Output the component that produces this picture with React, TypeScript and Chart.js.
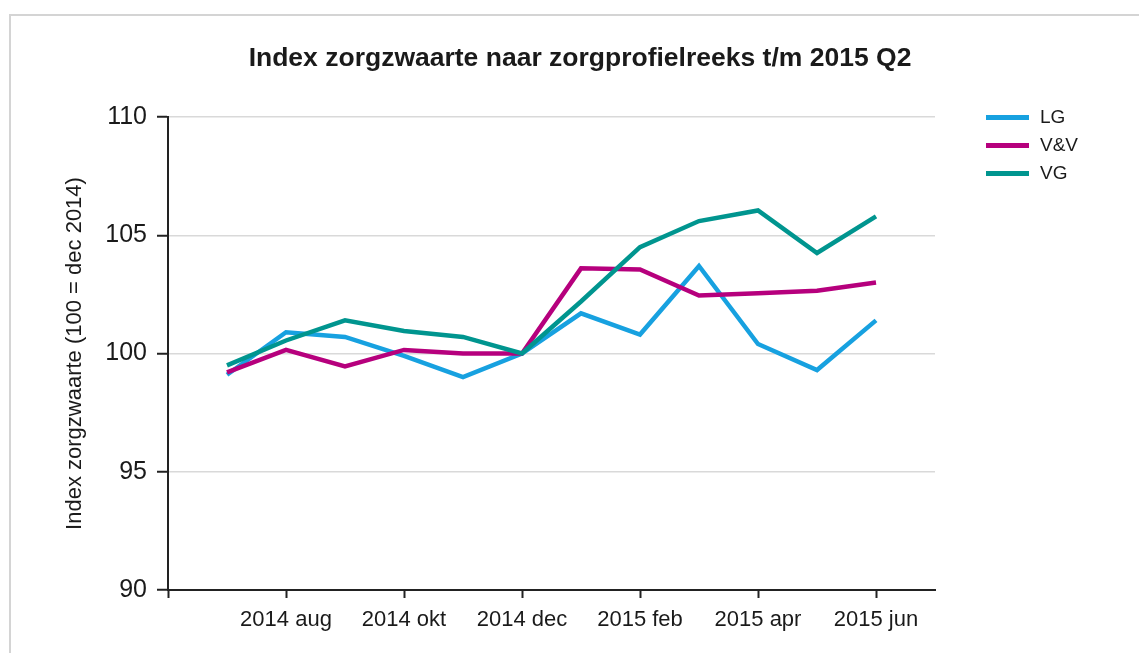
import React, { useEffect, useRef } from "react";
import { Chart, registerables } from "chart.js";

Chart.register(...registerables);

const TITLE = "Index zorgzwaarte naar zorgprofielreeks t/m 2015 Q2";
const Y_TITLE = "Index zorgzwaarte (100 = dec 2014)";

const MONTHS = [
  "2014 jul", "2014 aug", "2014 sep", "2014 okt", "2014 nov", "2014 dec",
  "2015 jan", "2015 feb", "2015 mrt", "2015 apr", "2015 mei", "2015 jun",
];
const X_TICK_INDEXES = [-1, 1, 3, 5, 7, 9, 11];
const Y_TICKS = [90, 95, 100, 105, 110];

const SERIES_NAMES = ["LG", "V&V", "VG"];
const SERIES_COLORS = ["#17a1e0", "#b6007d", "#00958f"];

const LG = [99.1, 100.9, 100.7, 99.9, 99.0, 100.0, 101.7, 100.8, 103.7, 100.4, 99.3, 101.4];
const VV = [99.2, 100.15, 99.45, 100.15, 100.0, 100.0, 103.6, 103.55, 102.45, 102.55, 102.65, 103.0];
const VG = [99.5, 100.55, 101.4, 100.95, 100.7, 100.0, 102.2, 104.5, 105.6, 106.05, 104.25, 105.8];

const SERIES_VALUES = [LG, VV, VG];

const FONT = "'Liberation Sans', Arial, sans-serif";
const TEXT = "#1a1a1a";

export default function App() {
  const ref = useRef<HTMLCanvasElement | null>(null);

  useEffect(() => {
    if (!ref.current) return;
    const datasets = SERIES_NAMES.map((name, i) => ({
      label: name,
      data: SERIES_VALUES[i].map((v, k) => ({ x: k, y: v })),
      borderColor: SERIES_COLORS[i],
      backgroundColor: SERIES_COLORS[i],
      borderWidth: 4.5,
      pointRadius: 0,
      tension: 0,
      fill: false,
      order: SERIES_NAMES.length - 1 - i,
    }));

    const chart = new Chart(ref.current, {
      type: "line",
      data: { datasets },
      options: {
        animation: false,
        responsive: false,
        layout: { padding: { left: 21, right: 0, top: 0, bottom: 0 } },
        plugins: {
          legend: { display: false },
          tooltip: { enabled: false },
          title: {
            display: true,
            text: TITLE,
            color: TEXT,
            font: { family: FONT, size: 26.5, weight: "bold" },
            padding: { top: 43, bottom: 42.2 },
          },
        },
        scales: {
          x: {
            type: "linear",
            min: -1,
            max: 12,
            afterBuildTicks: (s: any) => {
              s.ticks = X_TICK_INDEXES.map((v) => ({ value: v }));
            },
            afterFit: (s: any) => {
              s.height = 63;
            },
            ticks: {
              autoSkip: false,
              maxRotation: 0,
              padding: 9,
              color: TEXT,
              font: { family: FONT, size: 22 },
              callback: (v: any) => (v >= 0 && v < MONTHS.length ? MONTHS[v] : ""),
            },
            grid: {
              display: true,
              drawOnChartArea: false,
              drawTicks: true,
              tickLength: 8,
              tickColor: "#222",
              tickWidth: 2,
            },
            border: { display: true, color: "#222", width: 2 },
          },
          y: {
            type: "linear",
            min: 90,
            max: 110,
            afterBuildTicks: (s: any) => {
              s.ticks = Y_TICKS.map((v) => ({ value: v }));
            },
            afterFit: (s: any) => {
              s.width = 147;
            },
            ticks: {
              padding: 10,
              color: TEXT,
              font: { family: FONT, size: 25 },
            },
            grid: {
              color: (c: any) => (c.tick && c.tick.value === 90 ? "rgba(0,0,0,0)" : "#d9d9d9"),
              lineWidth: 1.5,
              tickLength: 11,
              tickColor: "#222",
              tickWidth: 2,
            },
            border: { display: true, color: "#222", width: 2 },
            title: {
              display: true,
              text: Y_TITLE,
              color: TEXT,
              font: { family: FONT, size: 22 },
              padding: { top: 41, bottom: 0 },
            },
          },
          spacer: {
            type: "linear",
            position: "right",
            display: true,
            afterFit: (s: any) => {
              s.width = 204;
            },
            ticks: { display: false },
            grid: { display: false },
            border: { display: false },
          },
        },
      },
    } as any);
    return () => chart.destroy();
  }, []);

  return (
    <div
      style={{
        position: "fixed",
        left: 0,
        top: 0,
        width: 1139,
        height: 653,
        overflow: "hidden",
        background: "#fff",
      }}
    >
      <div
        style={{
          position: "absolute",
          left: 9,
          top: 14,
          width: 1300,
          height: 900,
          border: "2px solid #d4d4d4",
          boxSizing: "border-box",
        }}
      />
      <canvas
        ref={ref}
        width={1139}
        height={653}
        style={{ position: "absolute", left: 0, top: 0, width: 1139, height: 653 }}
      />
      <div style={{ position: "absolute", left: 986, top: 103 }}>
        {SERIES_NAMES.map((name, i) => (
          <div
            key={name}
            style={{
              display: "flex",
              alignItems: "center",
              height: 28,
              fontFamily: FONT,
              fontSize: 19,
              color: TEXT,
            }}
          >
            <span
              style={{
                display: "inline-block",
                width: 43,
                height: 5,
                background: SERIES_COLORS[i],
                marginRight: 11,
              }}
            />
            <span>{name}</span>
          </div>
        ))}
      </div>
    </div>
  );
}
